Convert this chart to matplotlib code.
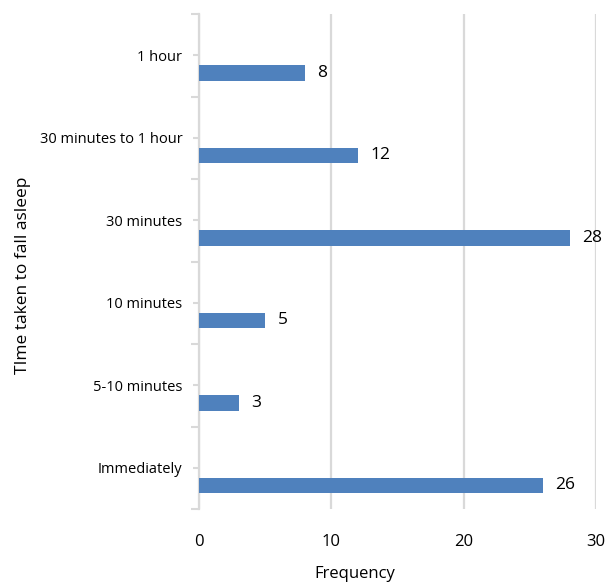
import numpy as np
import matplotlib.pyplot as plt

plt.rcParams['font.family'] = ['Open Sans', 'DejaVu Sans']

categories = ["Immediately", "5-10 minutes", "10 minutes", "30 minutes",
              "30 minutes to 1 hour", "1 hour"]
frequency = [26, 3, 5, 28, 12, 8]
x_ticks = [0, 10, 20, 30]

bar_color = "#4f81bd"
axis_color = "#d9d9d9"

fig = plt.figure(figsize=(6.15, 5.87), dpi=100)
ax = fig.add_axes([199 / 615, 1 - 509 / 587, 397 / 615, 495 / 587])

pos = np.arange(len(categories))
bars = ax.barh(pos - 0.215, frequency, height=0.19, color=bar_color, zorder=3)
ax.bar_label(bars, labels=[str(v) for v in frequency], padding=9, fontsize=12.5)

ax.set_xlim(0, 30)
ax.set_ylim(-0.5, len(categories) - 0.5)
ax.set_xticks(x_ticks)
ax.set_xticklabels([str(t) for t in x_ticks], fontsize=12)
ax.tick_params(axis='x', length=0, pad=18)
ax.xaxis.grid(True, color=axis_color, linewidth=1.6, zorder=0)

ax.set_yticks(pos)
ax.set_yticklabels(categories, fontsize=10.5)
ax.set_yticks(np.arange(-0.5, len(categories)), minor=True)
ax.tick_params(axis='y', which='major', length=4, width=1.5, color=axis_color, pad=8)
ax.tick_params(axis='y', which='minor', length=6, width=1.5, color=axis_color)

for side in ['top', 'right', 'bottom']:
    ax.spines[side].set_visible(False)
ax.spines['left'].set_color(axis_color)
ax.spines['left'].set_linewidth(1.6)

ax.set_xlabel("Frequency", fontsize=12, labelpad=14)
ax.xaxis.set_label_coords(0.393, -0.115)
ax.set_ylabel("TIme taken to fall asleep", fontsize=12.5)
ax.yaxis.set_label_coords(-0.424, 0.473)

fig.savefig("out.png", dpi=100)
